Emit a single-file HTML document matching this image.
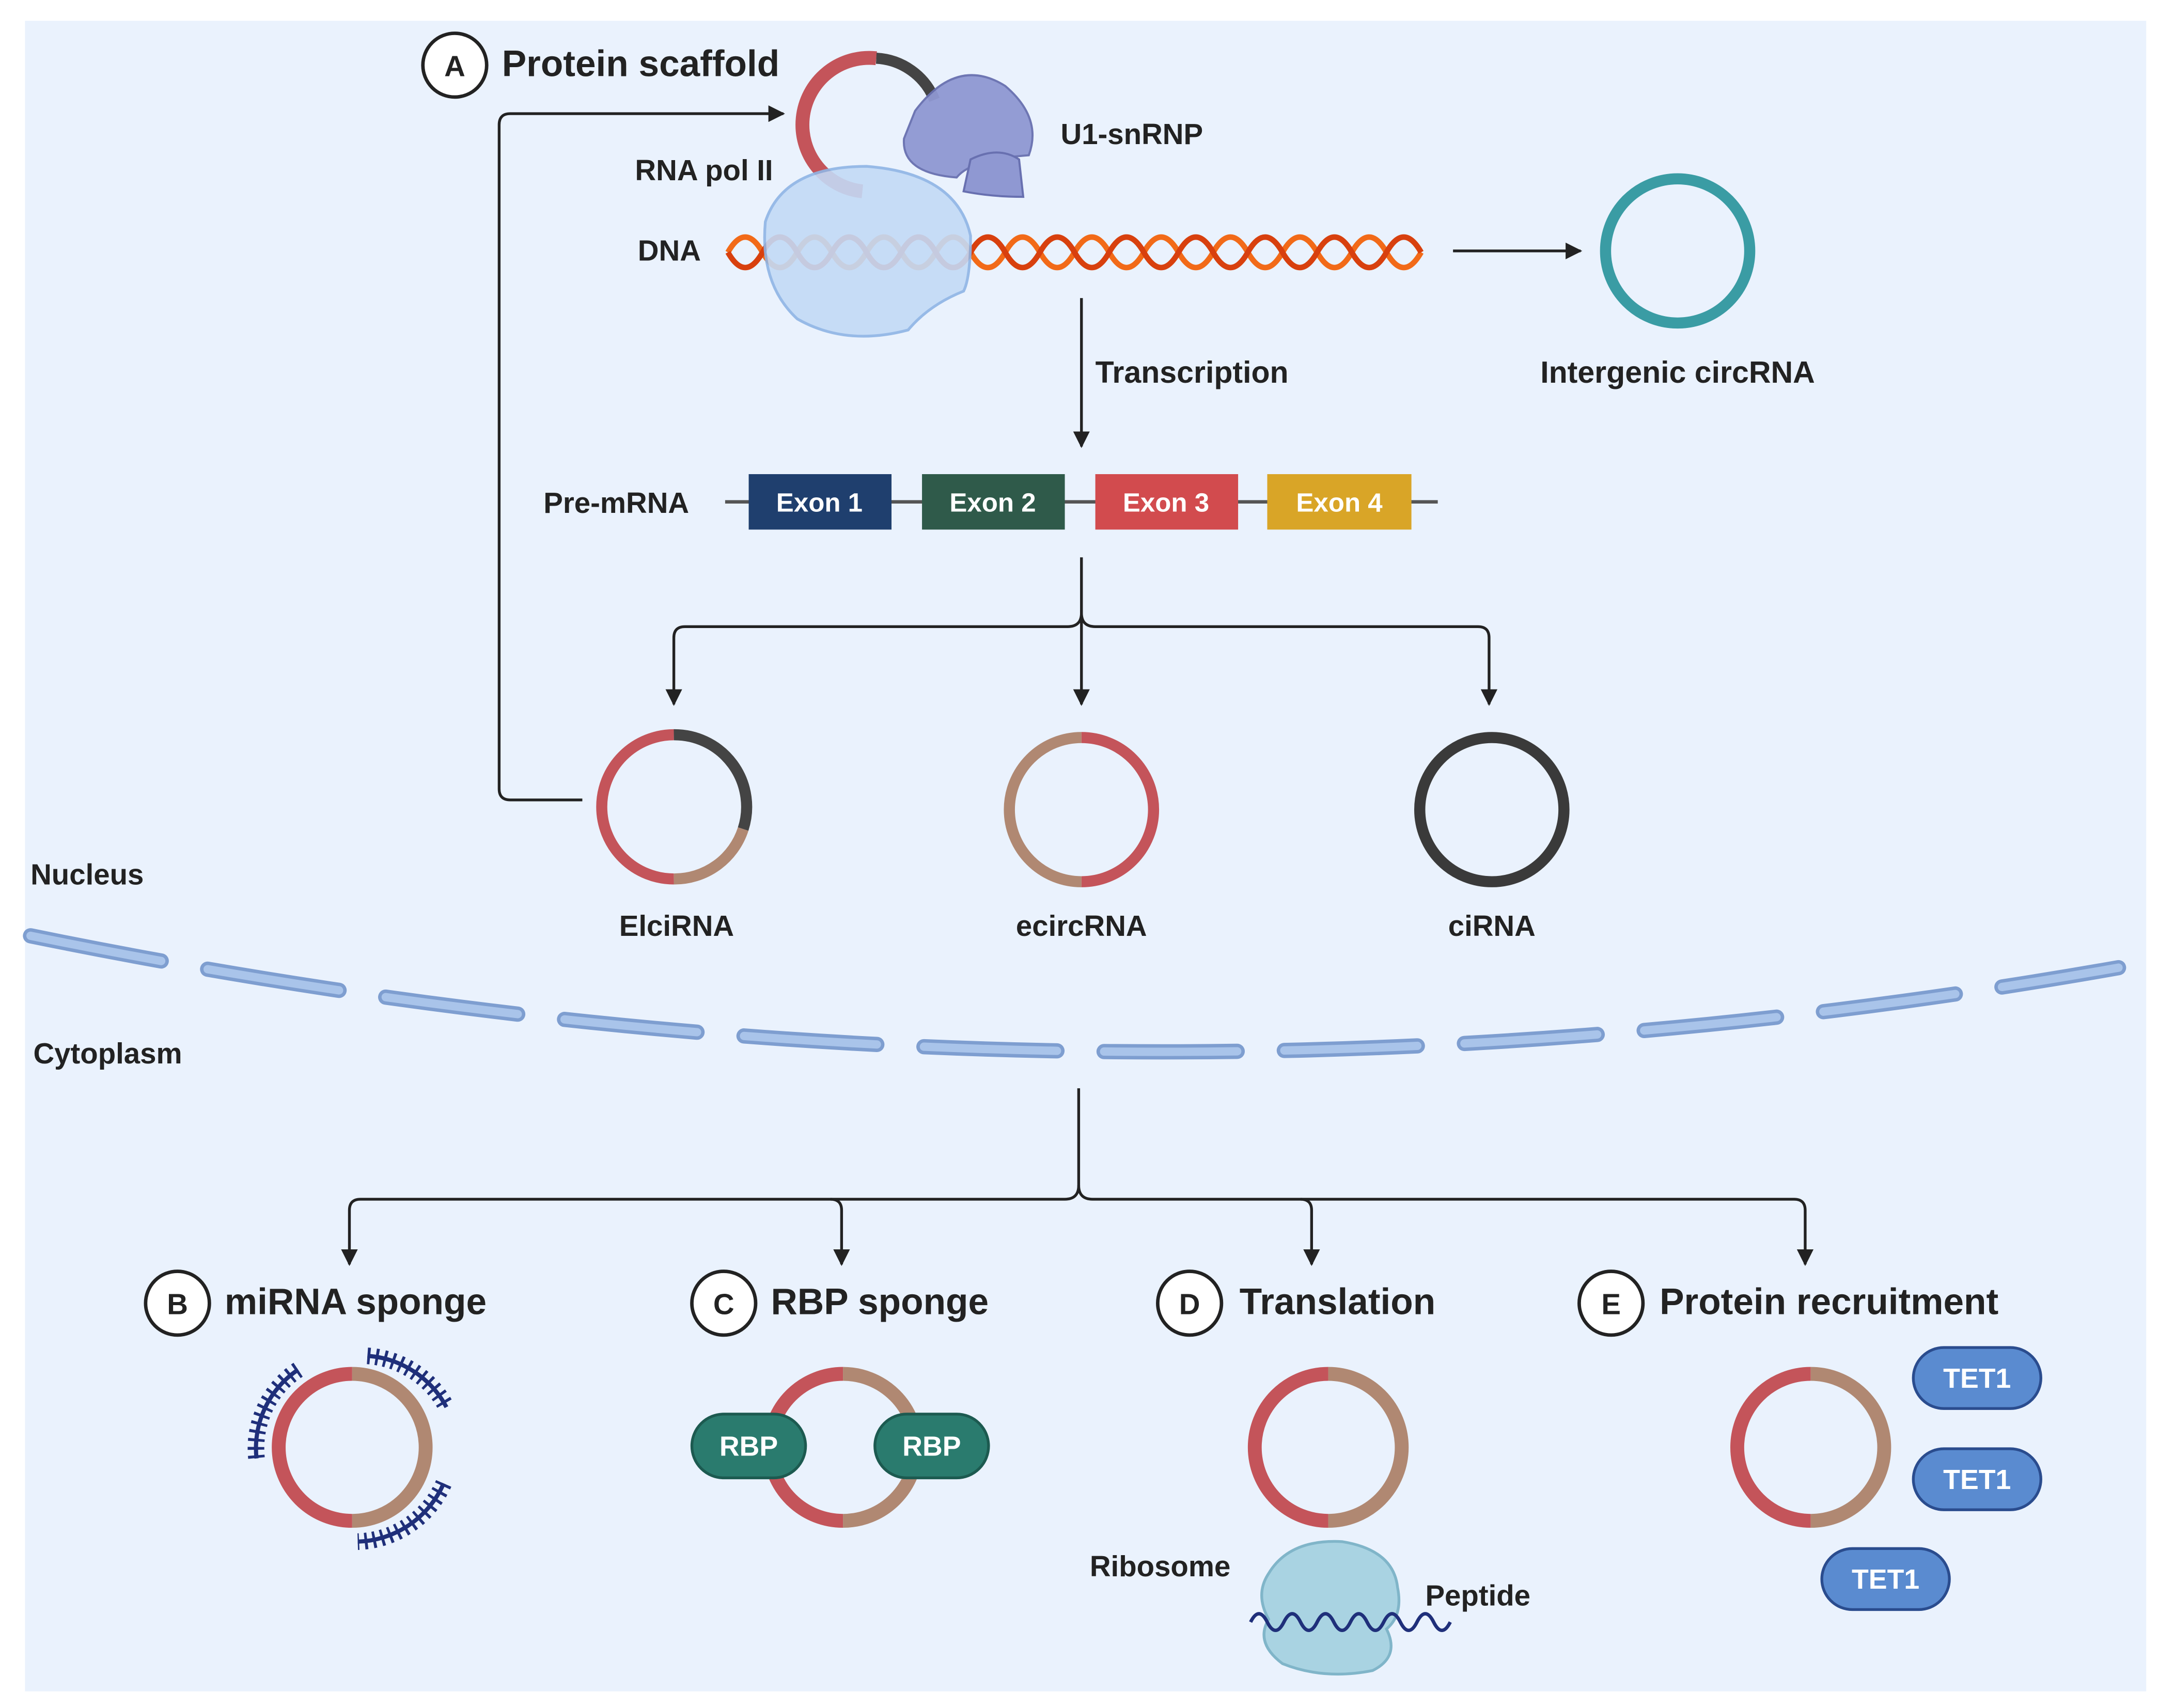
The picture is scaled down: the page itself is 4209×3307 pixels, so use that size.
<!DOCTYPE html>
<html><head><meta charset="utf-8"><style>
html,body{margin:0;padding:0;background:#fff;}
svg{display:block;}
text{font-family:"Liberation Sans",sans-serif;font-weight:bold;fill:#222;}
</style></head><body>
<svg width="4209" height="3307" viewBox="0 0 1568 1232" xmlns="http://www.w3.org/2000/svg">
<defs>
<marker id="ar" viewBox="0 0 10 10" refX="9" refY="5" markerWidth="6" markerHeight="6" orient="auto"><path d="M0,0L10,5L0,10z" fill="#222"/></marker>
</defs>
<rect x="18" y="15" width="1530" height="1205" fill="#EAF2FD"/>

<!-- A -->
<circle cx="328" cy="47" r="23" fill="#fff" stroke="#222" stroke-width="2.5"/>
<text x="328" y="55" font-size="21" text-anchor="middle">A</text>
<text x="362" y="55" font-size="26.5">Protein scaffold</text>
<path d="M420,577 H368 Q360,577 360,569 V90 Q360,82 368,82 H565" fill="none" stroke="#222" stroke-width="2" marker-end="url(#ar)"/>

<!-- top circRNA -->
<path d="M632,42 A48,48 0 0 0 622,138" fill="none" stroke="#C4545A" stroke-width="10"/>
<path d="M632,42 A48,48 0 0 1 674,72" fill="none" stroke="#444" stroke-width="8"/>
<path d="M660,80 Q690,40 725,62 Q752,85 742,112 Q700,115 690,128 Q650,125 652,100 Z" fill="#8F98D2" stroke="#6870B0" stroke-width="1.5" opacity="0.95"/>
<path d="M700,115 Q720,105 735,115 L738,142 Q715,142 695,138 Z" fill="#8F98D2" stroke="#6870B0" stroke-width="1.5"/>
<text x="765" y="104" font-size="21">U1-snRNP</text>
<text x="458" y="130" font-size="21">RNA pol II</text>
<text x="460" y="188" font-size="21">DNA</text>

<!-- DNA -->
<path d="M525,182 q12.5,-22 25,0 q12.5,22 25,0 q12.5,-22 25,0 q12.5,22 25,0 q12.5,-22 25,0 q12.5,22 25,0 q12.5,-22 25,0 q12.5,22 25,0 q12.5,-22 25,0 q12.5,22 25,0 q12.5,-22 25,0 q12.5,22 25,0 q12.5,-22 25,0 q12.5,22 25,0 q12.5,-22 25,0 q12.5,22 25,0 q12.5,-22 25,0 q12.5,22 25,0 q12.5,-22 25,0 q12.5,22 25,0" fill="none" stroke="#F26A18" stroke-width="4"/>
<path d="M525,182 q12.5,22 25,0 q12.5,-22 25,0 q12.5,22 25,0 q12.5,-22 25,0 q12.5,22 25,0 q12.5,-22 25,0 q12.5,22 25,0 q12.5,-22 25,0 q12.5,22 25,0 q12.5,-22 25,0 q12.5,22 25,0 q12.5,-22 25,0 q12.5,22 25,0 q12.5,-22 25,0 q12.5,22 25,0 q12.5,-22 25,0 q12.5,22 25,0 q12.5,-22 25,0 q12.5,22 25,0 q12.5,-22 25,0" fill="none" stroke="#D8400E" stroke-width="4"/>
<!-- pol II -->
<path d="M552,160 Q565,120 625,120 Q690,125 700,170 Q700,200 695,210 Q670,220 655,238 Q610,250 575,230 Q548,205 552,160 Z" fill="#C3DAF6" stroke="#8FB5E5" stroke-width="2" opacity="0.9"/>
<path d="M1048,181 H1140" stroke="#222" stroke-width="2" marker-end="url(#ar)"/>
<circle cx="1210" cy="181" r="52" fill="none" stroke="#3A9CA4" stroke-width="8"/>
<text x="1210" y="276" font-size="22" text-anchor="middle">Intergenic circRNA</text>

<path d="M780,215 V322" stroke="#222" stroke-width="2" marker-end="url(#ar)"/>
<text x="790" y="276" font-size="22">Transcription</text>

<!-- pre-mRNA -->
<text x="392" y="370" font-size="21">Pre-mRNA</text>
<path d="M523,362 H1037" stroke="#555" stroke-width="2.5"/>
<rect x="540" y="342" width="103" height="40" fill="#1F3F6E"/>
<rect x="665" y="342" width="103" height="40" fill="#2F5A4A"/>
<rect x="790" y="342" width="103" height="40" fill="#D24B4E"/>
<rect x="914" y="342" width="104" height="40" fill="#D9A527"/>
<g font-size="19" text-anchor="middle"><text x="591" y="369" style="fill:#fff">Exon 1</text><text x="716" y="369" style="fill:#fff">Exon 2</text><text x="841" y="369" style="fill:#fff">Exon 3</text><text x="966" y="369" style="fill:#fff">Exon 4</text></g>

<path d="M780,402 V442 Q780,452 770,452 H494 Q486,452 486,460 V508" fill="none" stroke="#222" stroke-width="2" marker-end="url(#ar)"/>
<path d="M780,442 Q780,452 790,452 H1066 Q1074,452 1074,460 V508" fill="none" stroke="#222" stroke-width="2" marker-end="url(#ar)"/>
<path d="M780,440 V508" stroke="#222" stroke-width="2" marker-end="url(#ar)"/>

<!-- circles nucleus -->
<path d="M486,530 A52,52 0 0 0 486,634" fill="none" stroke="#C4545A" stroke-width="8"/>
<path d="M486,530 A52,52 0 0 1 536,598" fill="none" stroke="#444" stroke-width="8"/>
<path d="M536,598 A52,52 0 0 1 486,634" fill="none" stroke="#B08872" stroke-width="8"/>
<path d="M780,532 A52,52 0 0 1 780,636" fill="none" stroke="#C4545A" stroke-width="8"/>
<path d="M780,532 A52,52 0 0 0 780,636" fill="none" stroke="#B08872" stroke-width="8"/>
<circle cx="1076" cy="584" r="52" fill="none" stroke="#3A3A3A" stroke-width="8"/>
<g font-size="21" text-anchor="middle"><text x="488" y="675">ElciRNA</text><text x="780" y="675">ecircRNA</text><text x="1076" y="675">ciRNA</text></g>
<text x="22" y="638" font-size="21">Nucleus</text>
<text x="24" y="767" font-size="21">Cytoplasm</text>

<!-- membrane -->
<path d="M22,675 Q780,830 1528,698" fill="none" stroke="#7E9ED0" stroke-width="11" stroke-dasharray="96,34" stroke-linecap="round"/>
<path d="M22,675 Q780,830 1528,698" fill="none" stroke="#A9C4EA" stroke-width="6" stroke-dasharray="96,34" stroke-linecap="round"/>

<!-- cytoplasm split -->
<path d="M778,785 V855 Q778,865 768,865 H260 Q252,865 252,873 V912" fill="none" stroke="#222" stroke-width="2" marker-end="url(#ar)"/>
<path d="M778,855 Q778,865 788,865 H1294 Q1302,865 1302,873 V912" fill="none" stroke="#222" stroke-width="2" marker-end="url(#ar)"/>
<path d="M599,865 Q607,865 607,873 V912" fill="none" stroke="#222" stroke-width="2" marker-end="url(#ar)"/>
<path d="M938,865 Q946,865 946,873 V912" fill="none" stroke="#222" stroke-width="2" marker-end="url(#ar)"/>

<g stroke="#222" stroke-width="2.5" fill="#fff">
<circle cx="128" cy="940" r="23"/><circle cx="522" cy="940" r="23"/><circle cx="858" cy="940" r="23"/><circle cx="1162" cy="940" r="23"/></g>
<g font-size="21" text-anchor="middle"><text x="128" y="948">B</text><text x="522" y="948">C</text><text x="858" y="948">D</text><text x="1162" y="948">E</text></g>
<g font-size="26.5"><text x="162" y="948">miRNA sponge</text><text x="556" y="948">RBP sponge</text><text x="894" y="948">Translation</text><text x="1197" y="948">Protein recruitment</text></g>

<!-- function circles -->
<g fill="none" stroke-width="10">
<path d="M254,991 A53,53 0 0 0 254,1097" stroke="#C4545A"/><path d="M254,991 A53,53 0 0 1 254,1097" stroke="#B08872"/>
<path d="M608,991 A53,53 0 0 0 608,1097" stroke="#C4545A"/><path d="M608,991 A53,53 0 0 1 608,1097" stroke="#B08872"/>
<path d="M958,991 A53,53 0 0 0 958,1097" stroke="#C4545A"/><path d="M958,991 A53,53 0 0 1 958,1097" stroke="#B08872"/>
<path d="M1306,991 A53,53 0 0 0 1306,1097" stroke="#C4545A"/><path d="M1306,991 A53,53 0 0 1 1306,1097" stroke="#B08872"/>
</g>
<!-- miRNA combs -->
<g fill="none" stroke="#1F2F7A" stroke-width="3">
<path d="M215,988 A68,68 0 0 0 185,1052" stroke-dasharray="2,4" stroke-width="12"/>
<path d="M215,988 A68,68 0 0 0 185,1052"/>
<path d="M265,978 A70,70 0 0 1 322,1015" stroke-dasharray="2,4" stroke-width="12"/>
<path d="M265,978 A70,70 0 0 1 322,1015"/>
<path d="M320,1070 A70,70 0 0 1 258,1112" stroke-dasharray="2,4" stroke-width="12"/>
<path d="M320,1070 A70,70 0 0 1 258,1112"/>
</g>
<!-- RBP -->
<rect x="499" y="1020" width="82" height="46" rx="23" fill="#2A7B6E" stroke="#1C5A50" stroke-width="2"/>
<rect x="631" y="1020" width="82" height="46" rx="23" fill="#2A7B6E" stroke="#1C5A50" stroke-width="2"/>
<text x="540" y="1050" font-size="20" text-anchor="middle" style="fill:#fff">RBP</text>
<text x="672" y="1050" font-size="20" text-anchor="middle" style="fill:#fff">RBP</text>
<!-- TET1 -->
<g fill="#5A8BD0" stroke="#2A4C8E" stroke-width="2">
<rect x="1380" y="972" width="92" height="44" rx="22"/><rect x="1380" y="1045" width="92" height="44" rx="22"/><rect x="1314" y="1117" width="92" height="44" rx="22"/></g>
<g font-size="20" text-anchor="middle"><text x="1426" y="1001" style="fill:#fff">TET1</text><text x="1426" y="1074" style="fill:#fff">TET1</text><text x="1360" y="1146" style="fill:#fff">TET1</text></g>
<!-- ribosome -->
<path d="M915,1135 Q930,1110 968,1112 Q1005,1118 1008,1145 Q1012,1165 1000,1175 Q1010,1195 990,1205 Q955,1212 925,1200 Q905,1185 915,1168 Q905,1150 915,1135 Z" fill="#A9D3E2" stroke="#80B5C9" stroke-width="2"/>
<path d="M902,1170 q6,-12 12,0 t12,0 t12,0 t12,0 t12,0 t12,0 t12,0 t12,0 t12,0 t12,0 t12,0 t12,0" fill="none" stroke="#1F2F7A" stroke-width="2.5"/>
<text x="786" y="1137" font-size="21">Ribosome</text>
<text x="1028" y="1158" font-size="21">Peptide</text>
</svg>
</body></html>
